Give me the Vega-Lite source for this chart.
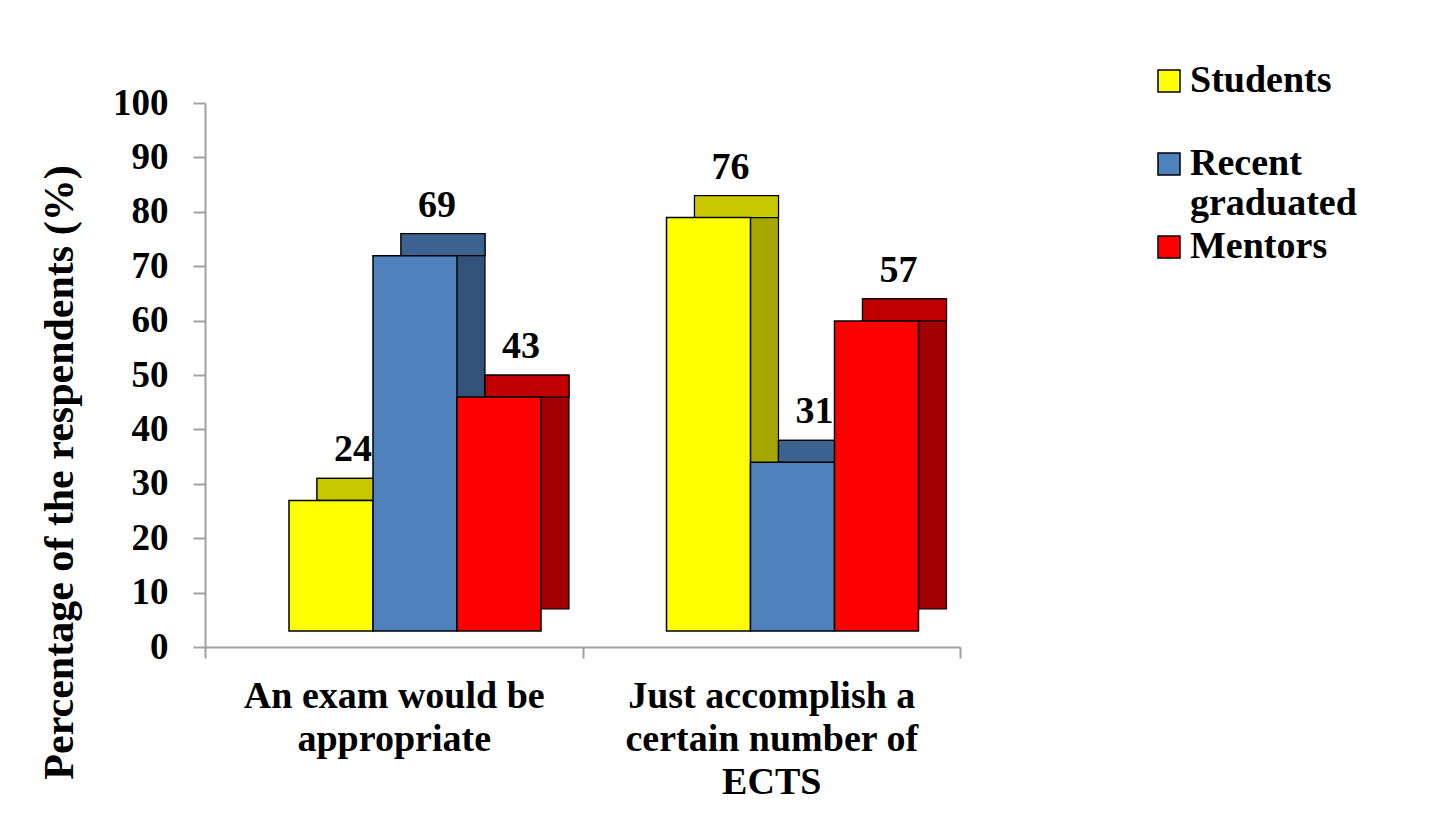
{
  "$schema": "https://vega.github.io/schema/vega-lite/v6.json",
  "autosize": "none",
  "width": 755,
  "height": 544,
  "padding": {"left": 205, "top": 103, "right": 470, "bottom": 170},
  "background": "white",
  "data": {
    "values": [
      {"category": "An exam would be appropriate", "group": "Students", "value": 24},
      {"category": "An exam would be appropriate", "group": "Recent graduated", "value": 69},
      {"category": "An exam would be appropriate", "group": "Mentors", "value": 43},
      {"category": "Just accomplish a certain number of ECTS", "group": "Students", "value": 76},
      {"category": "Just accomplish a certain number of ECTS", "group": "Recent graduated", "value": 31},
      {"category": "Just accomplish a certain number of ECTS", "group": "Mentors", "value": 57}
    ]
  },
  "encoding": {
    "x": {
      "field": "category",
      "type": "nominal",
      "sort": null,
      "scale": {"paddingInner": 0, "paddingOuter": 0},
      "axis": {
        "title": null,
        "labelAngle": 0,
        "labelFont": "Liberation Serif",
        "labelFontWeight": "bold",
        "labelFontSize": 38,
        "labelColor": "black",
        "labelLineHeight": 43,
        "labelBaseline": "top",
        "labelPadding": 19,
        "labelLimit": 500,
        "tickSize": 11,
        "tickBand": "extent",
        "tickColor": "#A0A0A0",
        "tickWidth": 2,
        "domainColor": "#A0A0A0",
        "domainWidth": 2,
        "labelExpr": "datum.value == 'An exam would be appropriate' ? ['An exam would be', 'appropriate'] : datum.value == 'Just accomplish a certain number of ECTS' ? ['Just accomplish a', 'certain number of', 'ECTS'] : ''"
      }
    },
    "y": {
      "field": "value",
      "type": "quantitative",
      "scale": {"domain": [0, 100], "nice": false},
      "axis": {
        "values": [0, 10, 20, 30, 40, 50, 60, 70, 80, 90, 100],
        "grid": false,
        "title": "Percentage of the respendents  (%)",
        "titleFont": "Liberation Serif",
        "titleFontWeight": "bold",
        "titleFontSize": 42,
        "titleColor": "black",
        "titleAngle": -90,
        "titleAlign": "center",
        "titleBaseline": "alphabetic",
        "titleX": -133,
        "titleY": 369,
        "labelFont": "Liberation Serif",
        "labelFontWeight": "bold",
        "labelFontSize": 37,
        "labelColor": "black",
        "labelPadding": 25,
        "tickSize": 12,
        "tickColor": "#A0A0A0",
        "tickWidth": 2,
        "domainColor": "#A0A0A0",
        "domainWidth": 2
      }
    }
  },
  "layer": [
    {
      "mark": {"type": "bar", "yOffset": -38, "y2Offset": -38, "stroke": "black", "strokeWidth": 1.2},
      "encoding": {
        "xOffset": {"field": "group", "type": "nominal", "scale": {"domain": ["Students", "Recent graduated", "Mentors"], "range": [112, 364], "paddingInner": 0, "paddingOuter": 0}},
        "color": {"field": "group", "type": "nominal", "scale": {"domain": ["Students", "Recent graduated", "Mentors"], "range": ["#A6A600", "#32527A", "#A00000"]}, "legend": null}
      }
    },
    {
      "mark": {"type": "bar", "yOffset": -38, "y2Offset": -16, "stroke": "black", "strokeWidth": 1.2},
      "encoding": {
        "y2": {"field": "value"},
        "xOffset": {"field": "group", "type": "nominal", "scale": {"domain": ["Students", "Recent graduated", "Mentors"], "range": [112, 364], "paddingInner": 0, "paddingOuter": 0}},
        "color": {"field": "group", "type": "nominal", "scale": {"domain": ["Students", "Recent graduated", "Mentors"], "range": ["#C8C800", "#3C6290", "#C00000"]}, "legend": null}
      }
    },
    {
      "mark": {"type": "bar", "yOffset": -16, "y2Offset": -16, "stroke": "black", "strokeWidth": 1.5},
      "encoding": {
        "xOffset": {"field": "group", "type": "nominal", "scale": {"domain": ["Students", "Recent graduated", "Mentors"], "range": [84, 336], "paddingInner": 0, "paddingOuter": 0}},
        "color": {
          "field": "group",
          "type": "nominal",
          "scale": {"domain": ["Students", "Recent graduated", "Mentors"], "range": ["#FFFF00", "#4F81BD", "#FF0000"]},
          "legend": {
            "orient": "none",
            "legendX": 945,
            "legendY": -41,
            "title": null,
            "padding": 0,
            "symbolType": "square",
            "symbolSize": 484,
            "symbolStrokeColor": "black",
            "symbolStrokeWidth": 1.5,
            "labelFont": "Liberation Serif",
            "labelFontWeight": "bold",
            "labelFontSize": 38,
            "labelColor": "black",
            "labelOffset": 2,
            "labelLimit": 400,
            "rowPadding": 5,
            "labelExpr": "datum.label == 'Recent graduated' ? ['Recent', 'graduated'] : datum.label == 'Students' ? ['Students', ''] : datum.label",
            "encode": {"labels": {"update": {"lineHeight": {"value": 40}}}}
          }
        }
      }
    },
    {
      "mark": {"type": "text", "dx": 22, "dy": -55, "baseline": "alphabetic", "font": "Liberation Serif", "fontWeight": "bold", "fontSize": 38, "color": "black"},
      "encoding": {
        "xOffset": {"field": "group", "type": "nominal", "scale": {"type": "point", "domain": ["Students", "Recent graduated", "Mentors"], "range": [84, 336], "padding": 0.5}},
        "text": {"field": "value", "type": "quantitative"}
      }
    }
  ],
  "resolve": {"scale": {"color": "independent", "xOffset": "independent"}},
  "config": {"view": {"stroke": null}}
}
